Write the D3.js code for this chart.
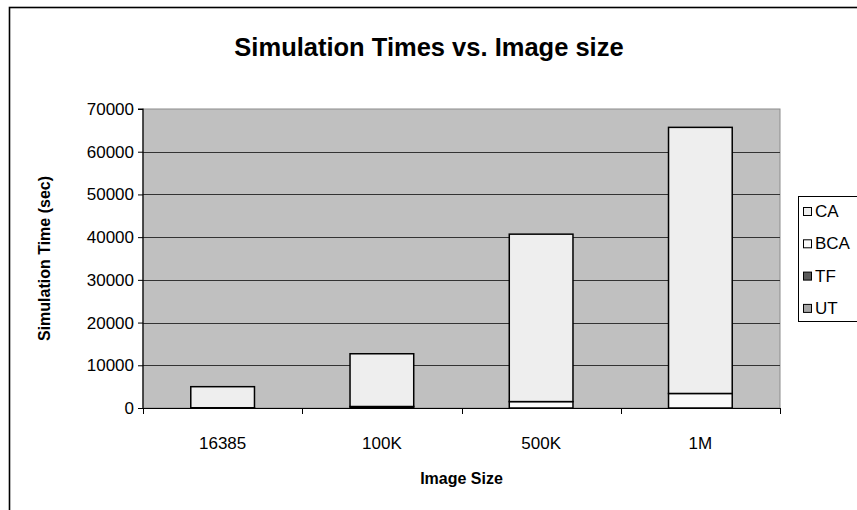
<!DOCTYPE html>
<html>
<head>
<meta charset="utf-8">
<script src="https://cdn.jsdelivr.net/npm/d3@7"></script>
<style>
  html, body { margin: 0; padding: 0; background: #ffffff; }
  svg { display: block; font-family: "Liberation Sans", Arial, sans-serif; }
</style>
</head>
<body>
<svg id="chart" width="857" height="510"></svg>
<script>
// Image sizes on the x axis
const categories = ["16385", "100K", "500K", "1M"];
// Simulation time (sec) per phase, stacked bottom to top: UT, TF, BCA, CA
const utValues  = [0, 0, 0, 0];
const tfValues  = [0, 0, 0, 0];
const bcaValues = [60, 350, 1500, 3400];
const caValues  = [4930, 12350, 39200, 62300];
const yTicks = [0, 10000, 20000, 30000, 40000, 50000, 60000, 70000];

const seriesNames = ["UT", "TF", "BCA", "CA"];
const seriesColors = { UT: "#a6a6a6", TF: "#595959", BCA: "#fafafa", CA: "#eeeeee" };
const seriesValues = { UT: utValues, TF: tfValues, BCA: bcaValues, CA: caValues };
const legendOrder = ["CA", "BCA", "TF", "UT"];

const rows = categories.map((c, i) => {
  const r = { cat: c };
  seriesNames.forEach(s => r[s] = seriesValues[s][i]);
  return r;
});

const FONT = "Liberation Sans, Arial, sans-serif";
const svg = d3.select("#chart");
const plot = { left: 143, right: 780, top: 109, bottom: 408 };

// Outer chart frame (runs past the viewport on right and bottom)
svg.append("rect")
  .attr("x", 9.5).attr("y", 7.5).attr("width", 900).attr("height", 600)
  .attr("fill", "#ffffff").attr("stroke", "#000").attr("stroke-width", 1.6);

const x = d3.scaleBand().domain(categories).range([plot.left, plot.right]).paddingInner(0.6).paddingOuter(0.3);
const xEdge = d3.scaleBand().domain(categories).range([plot.left, plot.right]).padding(0);
const y = d3.scaleLinear().domain([0, 70000]).range([plot.bottom, plot.top]);

// Plot area
svg.append("rect")
  .attr("x", plot.left).attr("y", plot.top)
  .attr("width", plot.right - plot.left).attr("height", plot.bottom - plot.top)
  .attr("fill", "#c0c0c0").attr("stroke", "#8c8c8c").attr("stroke-width", 1);

// Gridlines
svg.append("g").selectAll("line")
  .data(yTicks.filter(t => t > 0 && t < 70000))
  .join("line")
  .attr("x1", plot.left).attr("x2", plot.right)
  .attr("y1", d => Math.round(y(d)) + 0.5).attr("y2", d => Math.round(y(d)) + 0.5)
  .attr("stroke", "#333").attr("stroke-width", 1.2);

// Stacked bars
const stack = d3.stack().keys(seriesNames)(rows);
svg.append("g").selectAll("g")
  .data(stack)
  .join("g")
  .attr("fill", d => seriesColors[d.key])
  .selectAll("rect")
  .data(d => d.filter(p => p[1] - p[0] > 0))
  .join("rect")
  .attr("x", d => x(d.data.cat))
  .attr("width", x.bandwidth())
  .attr("y", d => y(d[1]))
  .attr("height", d => y(d[0]) - y(d[1]))
  .attr("stroke", "#000").attr("stroke-width", 1.5);

// Y axis
const yAxis = d3.axisLeft(y).tickValues(yTicks).tickSize(5).tickPadding(4).tickFormat(d3.format("d"));
const gy = svg.append("g").attr("transform", `translate(${plot.left},0)`).call(yAxis);
gy.attr("font-size", null).attr("font-family", null);
gy.select(".domain").attr("stroke", "#000").attr("stroke-width", 1.2).attr("d", `M-5,${plot.top}H0V${plot.bottom}`);
gy.selectAll(".tick line").attr("stroke", "#000");
gy.selectAll(".tick text").attr("fill", "#000")
  .style("font-size", "17px").style("font-family", FONT);

// X axis with ticks at category boundaries
svg.append("line")
  .attr("x1", plot.left - 5).attr("x2", plot.right)
  .attr("y1", plot.bottom + 0.5).attr("y2", plot.bottom + 0.5)
  .attr("stroke", "#000").attr("stroke-width", 1.2);
const edges = categories.map(c => xEdge(c)).concat([plot.right]);
svg.append("g").selectAll("line").data(edges).join("line")
  .attr("x1", d => Math.round(d) + 0.5).attr("x2", d => Math.round(d) + 0.5)
  .attr("y1", plot.bottom).attr("y2", plot.bottom + 6)
  .attr("stroke", "#000").attr("stroke-width", 1);
svg.append("g").selectAll("text").data(categories).join("text")
  .attr("x", d => xEdge(d) + xEdge.bandwidth() / 2)
  .attr("y", 449)
  .attr("text-anchor", "middle")
  .style("font-size", "17px")
  .text(d => d);

// Titles
svg.append("text")
  .attr("x", 429).attr("y", 56)
  .attr("text-anchor", "middle")
  .style("font-size", "25.5px").attr("font-weight", "bold")
  .text("Simulation Times vs. Image size");
svg.append("text")
  .attr("x", (plot.left + plot.right) / 2).attr("y", 484)
  .attr("text-anchor", "middle")
  .style("font-size", "16px").attr("font-weight", "bold")
  .text("Image Size");
svg.append("text")
  .attr("transform", `translate(50,${(plot.top + plot.bottom) / 2}) rotate(-90)`)
  .attr("text-anchor", "middle")
  .style("font-size", "16px").attr("font-weight", "bold")
  .text("Simulation Time (sec)");

// Legend
const lg = svg.append("g");
lg.append("rect")
  .attr("x", 798.5).attr("y", 196.5).attr("width", 80).attr("height", 125)
  .attr("fill", "#fff").attr("stroke", "#000").attr("stroke-width", 1);
const item = lg.selectAll("g.item").data(legendOrder).join("g")
  .attr("class", "item")
  .attr("transform", (d, i) => `translate(0,${211 + i * 32.3})`);
item.append("rect")
  .attr("x", 803.5).attr("y", -3.5).attr("width", 8).attr("height", 8)
  .attr("fill", d => seriesColors[d]).attr("stroke", "#000").attr("stroke-width", 1);
item.append("text")
  .attr("x", 815).attr("y", 6)
  .style("font-size", "17px")
  .text(d => d);
</script>
</body>
</html>
